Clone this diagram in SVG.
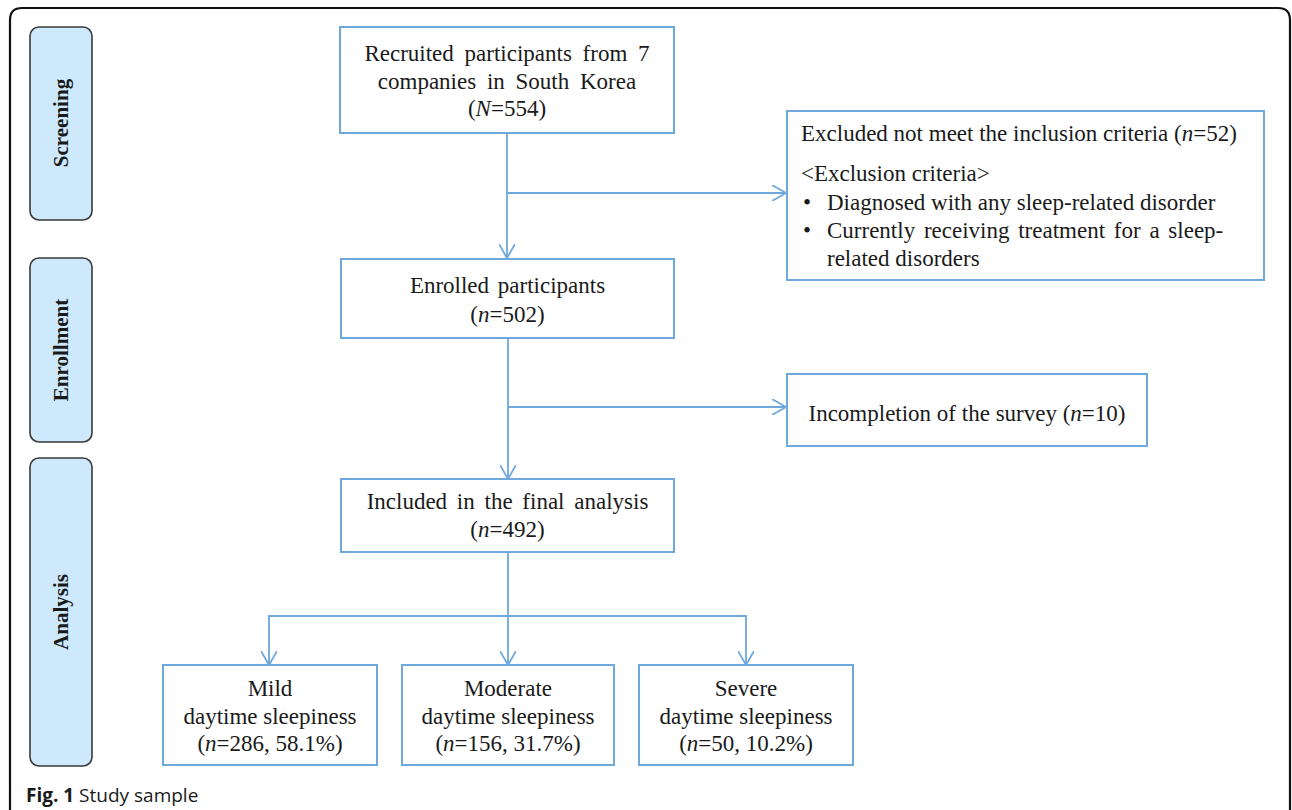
<svg xmlns="http://www.w3.org/2000/svg" width="1292" height="810" viewBox="0 0 1292 810">
<style>
.lane{fill:#cde9fb;stroke:#3a3a3a;stroke-width:1.6}
.lt{font-family:"Liberation Serif",serif;font-weight:bold;font-size:21px;fill:#1a1a1a;text-anchor:middle}
.box{fill:#ffffff;stroke:#6fa8dc;stroke-width:2}
.t{font-family:"Liberation Serif",serif;font-size:23px;fill:#1a1a1a}
.c{text-anchor:middle}
.conn{fill:none;stroke:#6fa8dc;stroke-width:1.8}
</style>
<defs>
<marker id="arr" viewBox="0 0 14 16" refX="14" refY="8" markerWidth="14" markerHeight="16" markerUnits="userSpaceOnUse" orient="auto">
<path d="M0,0 L14,8 L0,16" fill="none" stroke="#6fa8dc" stroke-width="1.8"/>
</marker>
</defs>
<rect width="1292" height="810" fill="#ffffff"/>
<path d="M10,812 V20 Q10,8 22,8 H1278 Q1290,8 1290,20 V812" fill="none" stroke="#111" stroke-width="2.2"/>

<g id="lane-screening">
<rect class="lane" x="30" y="27" width="62" height="193" rx="9"/>
<text class="lt" transform="translate(68,123) rotate(-90)">Screening</text>
</g>
<g id="lane-enrollment">
<rect class="lane" x="30" y="258" width="62" height="184" rx="9"/>
<text class="lt" transform="translate(68,350) rotate(-90)">Enrollment</text>
</g>
<g id="lane-analysis">
<rect class="lane" x="30" y="458" width="62" height="308" rx="9"/>
<text class="lt" transform="translate(68,612) rotate(-90)">Analysis</text>
</g>

<g id="connectors">
<path class="conn" d="M507,133 V258" marker-end="url(#arr)"/>
<path class="conn" d="M507,193 H786" marker-end="url(#arr)"/>
<path class="conn" d="M508,338 V479" marker-end="url(#arr)"/>
<path class="conn" d="M508,407 H786" marker-end="url(#arr)"/>
<path class="conn" d="M508,552 V665" marker-end="url(#arr)"/>
<path class="conn" d="M508,616 H269 V665" marker-end="url(#arr)"/>
<path class="conn" d="M508,616 H746 V665" marker-end="url(#arr)"/>
</g>

<g id="recruited">
<rect class="box" x="340" y="27" width="334" height="106"/>
<text class="t c" x="507" y="61" word-spacing="5">Recruited participants from 7</text>
<text class="t c" x="507" y="89" word-spacing="5">companies in South Korea</text>
<text class="t c" x="507" y="116">(<tspan font-style="italic">N</tspan>=554)</text>
</g>

<g id="excluded">
<rect class="box" x="787" y="111" width="477" height="169"/>
<text class="t" x="801" y="141">Excluded not meet the inclusion criteria (<tspan font-style="italic">n</tspan>=52)</text>
<text class="t" x="801" y="181">&lt;Exclusion criteria&gt;</text>
<text class="t" x="803" y="210">•</text>
<text class="t" x="827" y="210">Diagnosed with any sleep-related disorder</text>
<text class="t" x="803" y="238">•</text>
<text class="t" x="827" y="238" word-spacing="3">Currently receiving treatment for a sleep-</text>
<text class="t" x="827" y="266">related disorders</text>
</g>

<g id="enrolled">
<rect class="box" x="341" y="259" width="333" height="79"/>
<text class="t c" x="507.5" y="293" word-spacing="3">Enrolled participants</text>
<text class="t c" x="507.5" y="322">(<tspan font-style="italic">n</tspan>=502)</text>
</g>

<g id="incompletion">
<rect class="box" x="787" y="374" width="360" height="72"/>
<text class="t c" x="967" y="421">Incompletion of the survey (<tspan font-style="italic">n</tspan>=10)</text>
</g>

<g id="included">
<rect class="box" x="341" y="479" width="333" height="73"/>
<text class="t c" x="507.5" y="509" word-spacing="4">Included in the final analysis</text>
<text class="t c" x="507.5" y="537">(<tspan font-style="italic">n</tspan>=492)</text>
</g>

<g id="mild">
<rect class="box" x="163" y="665" width="214" height="100"/>
<text class="t c" x="270" y="696">Mild</text>
<text class="t c" x="270" y="724">daytime sleepiness</text>
<text class="t c" x="270" y="751">(<tspan font-style="italic">n</tspan>=286, 58.1%)</text>
</g>

<g id="moderate">
<rect class="box" x="402" y="665" width="212" height="100"/>
<text class="t c" x="508" y="696">Moderate</text>
<text class="t c" x="508" y="724">daytime sleepiness</text>
<text class="t c" x="508" y="751">(<tspan font-style="italic">n</tspan>=156, 31.7%)</text>
</g>

<g id="severe">
<rect class="box" x="639" y="665" width="214" height="100"/>
<text class="t c" x="746" y="696">Severe</text>
<text class="t c" x="746" y="724">daytime sleepiness</text>
<text class="t c" x="746" y="751">(<tspan font-style="italic">n</tspan>=50, 10.2%)</text>
</g>

<text x="26" y="802" font-family="'Open Sans',sans-serif" font-size="19" fill="#1a1a1a"><tspan font-weight="bold">Fig. 1</tspan> Study sample</text>
</svg>
